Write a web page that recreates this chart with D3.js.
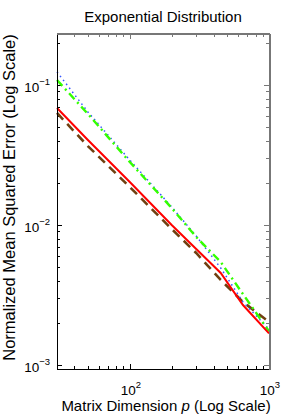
<!DOCTYPE html>
<html>
<head>
<meta charset="utf-8">
<script src="https://cdn.jsdelivr.net/npm/d3@7"></script>
<style>
    body { margin: 0; background: #fff; }
    svg { display: block; }
</style>
</head>
<body>
<script>
// values
const pValues = [30, 50, 100, 200, 300, 450, 650, 1000];
const solidRed = [0.0685, 0.0405, 0.0203, 0.0100, 0.00674, 0.00454, 0.00268, 0.00168];
const dashDotGreen = [0.1086, 0.0621, 0.0282, 0.01322, 0.00821, 0.00544, 0.00321, 0.00174];
const dottedBlue = [0.1239, 0.0642, 0.0291, 0.01345, 0.00834, 0.00493, 0.00282, 0.00180];
const dashedBrown = [0.0631, 0.0366, 0.01868, 0.00936, 0.00631, 0.00405, 0.00282, 0.00203];

const xMajorTicks = [100, 1000];
const xTickExponents = ["2", "3"];
const yMajorTicks = [1e-3, 1e-2, 1e-1];
const yTickExponents = ["\u22123", "\u22122", "\u22121"];

const titleText = "Exponential Distribution";
const yLabelText = "Normalized Mean Squared Error (Log Scale)";

function createChart() {
    const width = 285;
    const height = 416;
    const left = 57, right = 269, top = 34, bottom = 369;
    const font = "'Liberation Sans', Arial, Helvetica, sans-serif";

    const x = d3.scaleLog().domain([30, 1000]).range([left, right]);
    const y = d3.scaleLog().domain([0.000936, 0.2313]).range([bottom, top]);

    const svg = d3.create("svg")
        .attr("width", width)
        .attr("height", height)
        .attr("viewBox", [0, 0, width, height]);

    svg.append("rect")
        .attr("width", width)
        .attr("height", height)
        .attr("fill", "#fff");

    // minor ticks: 2..9 times each decade
    const xMinor = [];
    for (let d = 10; d < 1000; d *= 10)
        for (let k = 1; k <= 9; k++) {
            const v = d * k;
            if (v >= 30 && v <= 1000 && !xMajorTicks.includes(v)) xMinor.push(v);
        }
    const yMinor = [];
    for (let d = 1e-4; d < 1; d *= 10)
        for (let k = 2; k <= 9; k++) {
            const v = d * k;
            if (v >= 0.000936 && v <= 0.2313) yMinor.push(v);
        }

    const ticks = svg.append("g")
        .attr("shape-rendering", "crispEdges")
        .attr("stroke-width", 1);

    // bottom + top ticks (inside)
    [[bottom, -1, "#000"], [top, 1, "#777"]].forEach(([yy, dir, col]) => {
        ticks.append("g").attr("stroke", col).selectAll()
            .data(xMinor.map(v => [v, 3]).concat(xMajorTicks.map(v => [v, 5])))
            .join("line")
            .attr("x1", d => Math.round(x(d[0])) + 0.5)
            .attr("x2", d => Math.round(x(d[0])) + 0.5)
            .attr("y1", yy)
            .attr("y2", d => yy + dir * d[1]);
    });

    // left + right ticks (inside)
    [[left, 1, "#000"], [right, -1, "#777"]].forEach(([xx, dir, col]) => {
        ticks.append("g").attr("stroke", col).selectAll()
            .data(yMinor.map(v => [v, 3]).concat(yMajorTicks.map(v => [v, 5])))
            .join("line")
            .attr("y1", d => Math.round(y(d[0])) + 0.5)
            .attr("y2", d => Math.round(y(d[0])) + 0.5)
            .attr("x1", xx)
            .attr("x2", d => xx + dir * d[1]);
    });

    // series lines
    const line = vals => d3.line()
        .x((d, i) => x(pValues[i]))
        .y(d => y(d))(vals);

    const plot = svg.append("g").attr("fill", "none");

    plot.append("path")
        .attr("d", line(dashedBrown))
        .attr("stroke", "#704010")
        .attr("stroke-width", 2.6)
        .attr("stroke-dasharray", "9,6");

    plot.append("path")
        .attr("d", line(dottedBlue))
        .attr("stroke", "#3355ff")
        .attr("stroke-width", 1.5)
        .attr("stroke-dasharray", "1.5,3.5");

    plot.append("path")
        .attr("d", line(dashDotGreen))
        .attr("stroke", "#33ff00")
        .attr("stroke-width", 2.4)
        .attr("stroke-dasharray", "8,4,2,4");

    plot.append("path")
        .attr("d", line(solidRed))
        .attr("stroke", "#ff0000")
        .attr("stroke-width", 2);

    // axes box: left/bottom black, top/right grey
    const box = svg.append("g").attr("shape-rendering", "crispEdges");
    box.append("line").attr("x1", left).attr("x2", left).attr("y1", top).attr("y2", bottom + 0.5)
        .attr("stroke", "#000");
    box.append("line").attr("x1", left).attr("x2", right).attr("y1", bottom + 0.5).attr("y2", bottom + 0.5)
        .attr("stroke", "#000");
    box.append("line").attr("x1", left).attr("x2", right + 1).attr("y1", top).attr("y2", top)
        .attr("stroke", "#777").attr("stroke-width", 1.5);
    box.append("line").attr("x1", right + 0.5).attr("x2", right + 0.5).attr("y1", top).attr("y2", bottom + 1)
        .attr("stroke", "#777").attr("stroke-width", 2);

    // x tick labels 10^n
    const xl = svg.append("g")
        .attr("font-family", font)
        .attr("fill", "#000")
        .attr("text-anchor", "middle");
    xMajorTicks.forEach((v, i) => {
        const t = xl.append("text")
            .attr("x", x(v) + 1)
            .attr("y", 395)
            .attr("font-size", 13.5);
        t.append("tspan").text("10");
        t.append("tspan").attr("font-size", 9.5).attr("dy", -7).text(xTickExponents[i]);
    });

    // y tick labels 10^-n
    const yl = svg.append("g")
        .attr("font-family", font)
        .attr("fill", "#000")
        .attr("text-anchor", "end");
    yMajorTicks.forEach((v, i) => {
        const t = yl.append("text")
            .attr("x", 50)
            .attr("y", y(v) + 7)
            .attr("font-size", 13.5);
        t.append("tspan").text("10");
        t.append("tspan").attr("font-size", 9.5).attr("dy", -7).text(yTickExponents[i]);
    });

    // title
    svg.append("text")
        .attr("x", (left + right) / 2)
        .attr("y", 22)
        .attr("text-anchor", "middle")
        .attr("font-family", font)
        .attr("font-size", 15)
        .text(titleText);

    // x axis label, with italic p
    const xLabel = svg.append("text")
        .attr("x", (left + right) / 2 + 3)
        .attr("y", 411)
        .attr("text-anchor", "middle")
        .attr("font-family", font)
        .attr("font-size", 15);
    xLabel.append("tspan").text("Matrix Dimension ");
    xLabel.append("tspan").attr("font-style", "italic").text("p");
    xLabel.append("tspan").text(" (Log Scale)");

    // y axis label
    svg.append("text")
        .attr("transform", `translate(15,${(top + bottom) / 2 - 4}) rotate(-90)`)
        .attr("text-anchor", "middle")
        .attr("font-family", font)
        .attr("font-size", 16.5)
        .text(yLabelText);

    return svg.node();
}

document.body.appendChild(createChart());
</script>
</body>
</html>
